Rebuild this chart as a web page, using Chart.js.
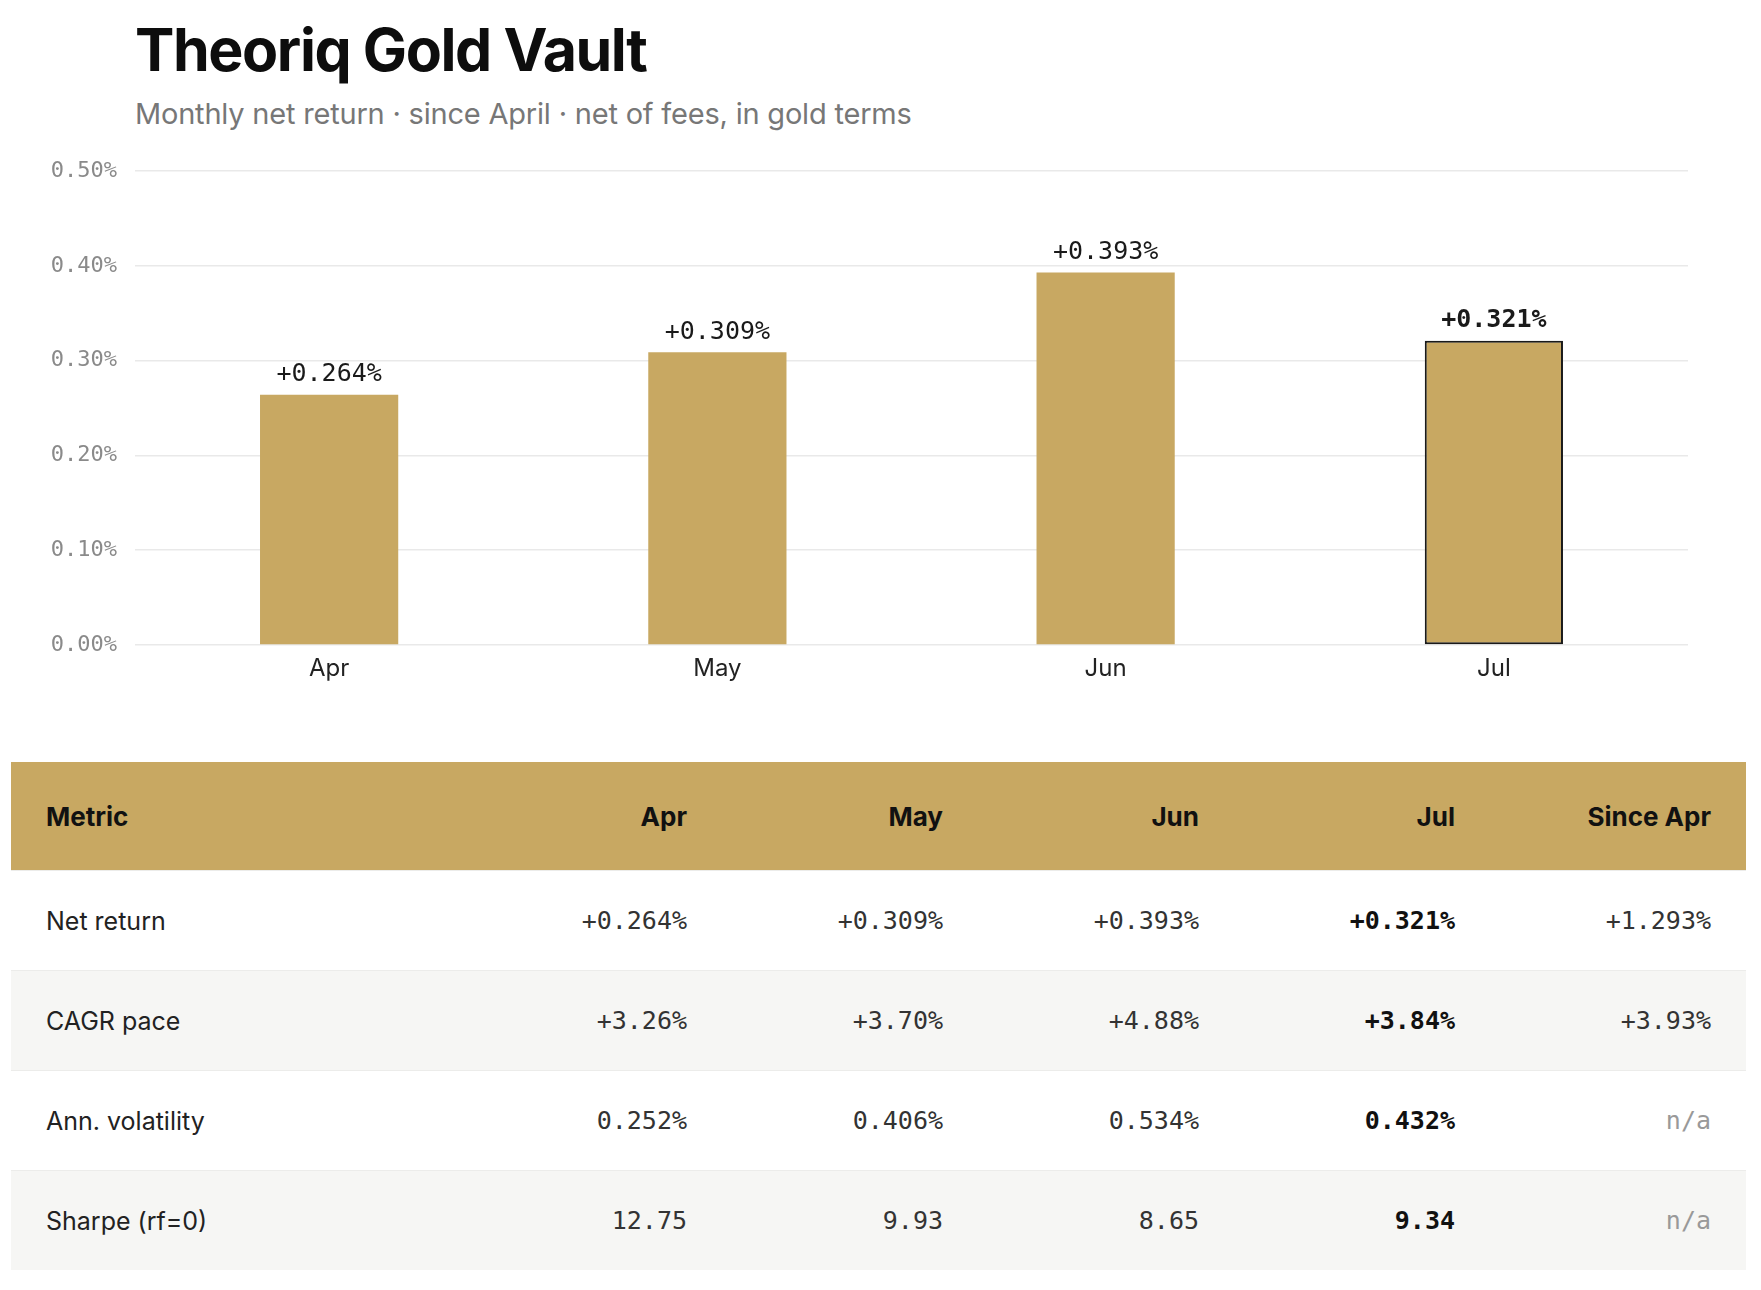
<!DOCTYPE html>
<html>
<head>
<meta charset="utf-8">
<script src="https://cdn.jsdelivr.net/npm/chart.js@4.4.1/dist/chart.umd.min.js"></script>
<style>
    body { margin: 0; background: #fff; width: 1761px; height: 1290px; position: relative; overflow: hidden; font-family: Inter, 'Noto Sans', sans-serif; }
    .title { position: absolute; left: 135px; top: 14px; font-size: 59px; font-weight: 700; color: #0d0d0d; letter-spacing: -1.4px; line-height: 72px; }
    .subtitle { position: absolute; left: 135px; top: 96px; font-size: 29px; color: #777; line-height: 36px; letter-spacing: -0.2px; }
    .chart-box { position: absolute; left: 0; top: 140px; width: 1761px; height: 545px; }
    table { position: absolute; left: 11px; top: 762px; width: 1735px; border-collapse: collapse; table-layout: fixed; }
    th { background: #c8a862; height: 108px; font-size: 26px; font-weight: 700; color: #111; text-align: right; padding: 0 35px; }
    th:first-child, td:first-child { text-align: left; }
    td { height: 99px; padding: 0 35px; font-size: 25px; color: #222; text-align: right; border-top: 1.5px solid #ececea; }
    tbody tr:nth-child(even) td { background: #f6f6f4; }
    td.num { font-family: 'DejaVu Sans Mono', monospace; color: #333; }
    td.hi { font-weight: 700; color: #111; }
    td.na { color: #999; }
</style>
</head>
<body>
<div class="title">Theoriq Gold Vault</div>
<div class="subtitle">Monthly net return · since April · net of fees, in gold terms</div>
<div class="chart-box"><canvas id="vaultChart"></canvas></div>
<table id="metricsTable"></table>
<script>
// chart values
const months = ['Apr', 'May', 'Jun', 'Jul'];
const netReturn = [0.264, 0.309, 0.393, 0.321];
const yTickValues = [0, 0.1, 0.2, 0.3, 0.4, 0.5];
const highlightIndex = 3; // Jul is the current month

// table values
const tableColumns = ['Metric', 'Apr', 'May', 'Jun', 'Jul', 'Since Apr'];
const metricNames = ['Net return', 'CAGR pace', 'Ann. volatility', 'Sharpe (rf=0)'];
const netReturnCells = ['+0.264%', '+0.309%', '+0.393%', '+0.321%', '+1.293%'];
const cagrCells = ['+3.26%', '+3.70%', '+4.88%', '+3.84%', '+3.93%'];
const volCells = ['0.252%', '0.406%', '0.534%', '0.432%', 'n/a'];
const sharpeCells = ['12.75', '9.93', '8.65', '9.34', 'n/a'];

const gold = '#c8a862';
const monoFont = "'DejaVu Sans Mono', monospace";

function buildTable() {
    const table = document.getElementById('metricsTable');
    let html = '<colgroup><col style="width:455px">' + '<col style="width:256px">'.repeat(5) + '</colgroup>';
    html += '<thead><tr>' + tableColumns.map(c => `<th>${c}</th>`).join('') + '</tr></thead><tbody>';
    const rows = [netReturnCells, cagrCells, volCells, sharpeCells];
    rows.forEach((cells, r) => {
        html += `<tr><td>${metricNames[r]}</td>`;
        cells.forEach((v, i) => {
            let cls = 'num';
            if (i === highlightIndex) cls += ' hi';
            if (v === 'n/a') cls += ' na';
            html += `<td class="${cls}">${v}</td>`;
        });
        html += '</tr>';
    });
    table.innerHTML = html + '</tbody>';
}

// Draw "+0.xxx%" above each bar
const valueLabels = {
    id: 'valueLabels',
    afterDatasetsDraw(chart) {
        const ctx = chart.ctx;
        const meta = chart.getDatasetMeta(0);
        ctx.save();
        ctx.textAlign = 'center';
        ctx.textBaseline = 'middle';
        ctx.fillStyle = '#1a1a1a';
        meta.data.forEach((bar, i) => {
            ctx.font = (i === highlightIndex ? 'bold ' : '') + '25px ' + monoFont;
            ctx.fillText('+' + netReturn[i].toFixed(3) + '%', bar.x, bar.y - 20);
        });
        ctx.restore();
    }
};

function initChart() {
    const ctx = document.getElementById('vaultChart').getContext('2d');
    new Chart(ctx, {
        type: 'bar',
        data: {
            labels: months,
            datasets: [{
                data: netReturn,
                backgroundColor: gold,
                borderColor: '#1a1a1a',
                borderWidth: netReturn.map((v, i) => i === highlightIndex ? 2 : 0),
                borderSkipped: false,
                barPercentage: 0.356,
                categoryPercentage: 1.0
            }]
        },
        options: {
            responsive: true,
            maintainAspectRatio: false,
            animation: false,
            layout: { padding: { top: 25, right: 73, left: 0, bottom: 0 } },
            plugins: { legend: { display: false }, tooltip: { enabled: false } },
            scales: {
                y: {
                    min: 0,
                    max: 0.5,
                    afterBuildTicks: scale => { scale.ticks = yTickValues.map(v => ({ value: v })); },
                    afterFit: scale => { scale.width = 135; },
                    border: { display: false },
                    grid: { color: '#e9e9e9', lineWidth: 1.5, drawTicks: false },
                    ticks: {
                        padding: 18,
                        color: '#8a8a8a',
                        font: { family: monoFont, size: 22 },
                        callback: v => v.toFixed(2) + '%'
                    }
                },
                x: {
                    afterFit: scale => { scale.height = 40; },
                    border: { display: false },
                    grid: { display: false, drawTicks: false },
                    ticks: {
                        padding: 9,
                        color: '#222',
                        font: { family: 'Inter', size: 24 }
                    }
                }
            }
        },
        plugins: [valueLabels]
    });
}

buildTable();
window.addEventListener('load', initChart);
</script>
</body>
</html>
